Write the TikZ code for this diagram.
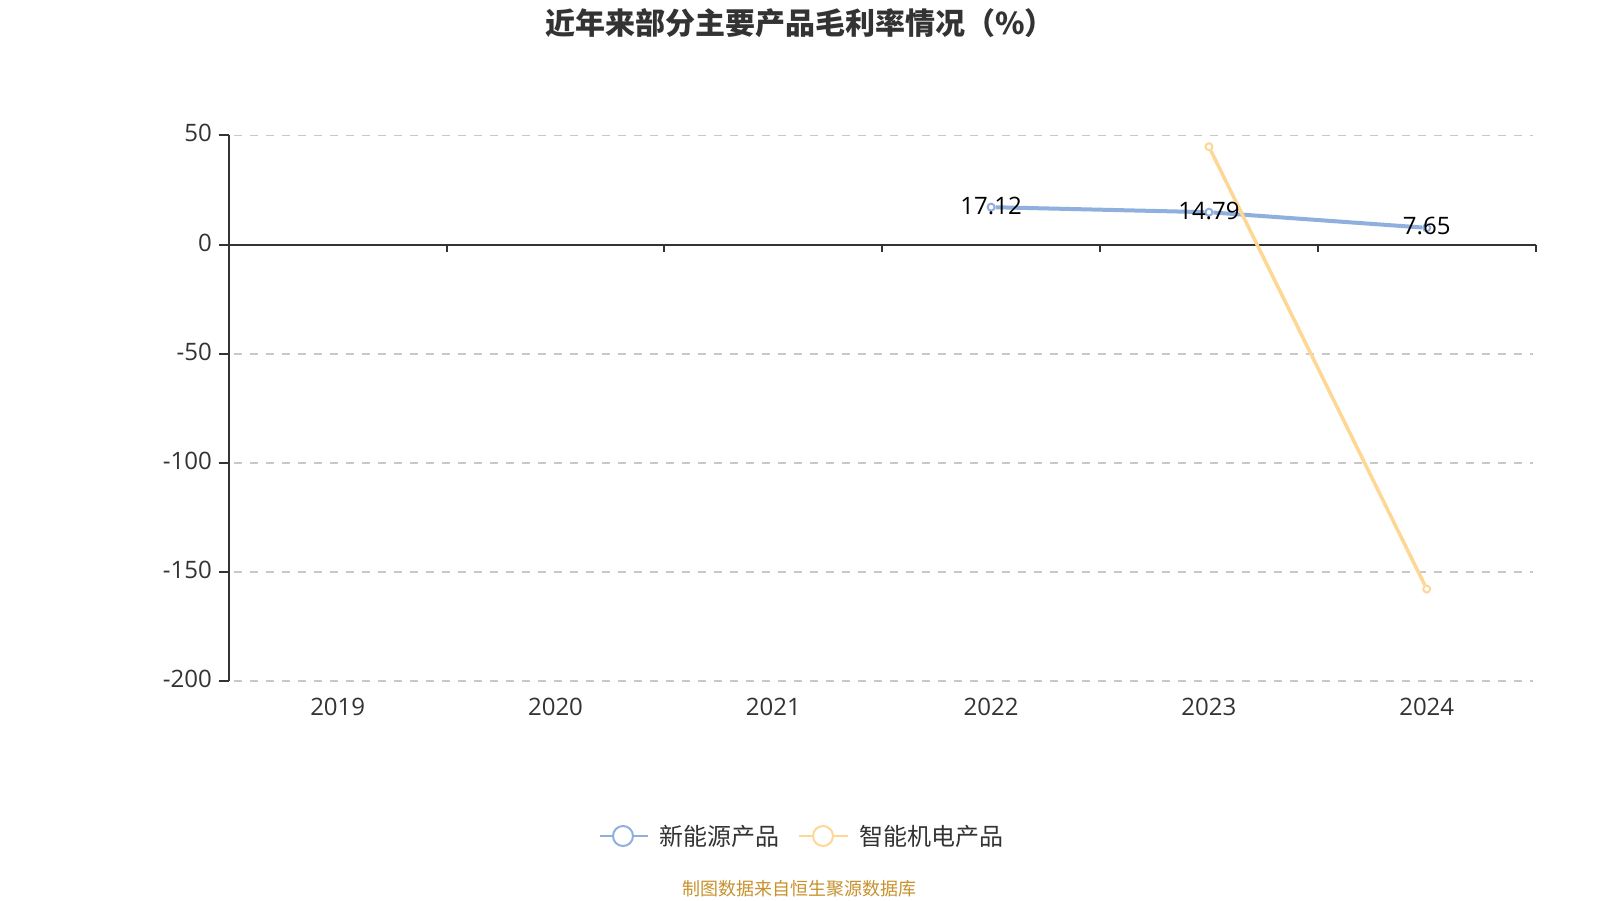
\documentclass[tikz,border=0pt]{standalone}
\usepackage{fontspec}
\setmainfont{Open Sans}
\newfontfamily\cjk{Noto Sans CJK SC}
\usetikzlibrary{positioning}
\definecolor{newblue}{HTML}{8FAFDE}
\definecolor{mechyellow}{HTML}{FFD794}
\definecolor{axisgray}{HTML}{333333}
\definecolor{gridgray}{HTML}{C8C8C8}
\definecolor{srcgold}{HTML}{C8922E}
% pixel position of a value and of a year band
\newcommand{\valy}[1]{244.5-2.182*(#1)}
\newcommand{\bandx}[1]{228.8+217.8*(#1)}

\begin{document}
\begin{tikzpicture}[x=1pt,y=-1pt]
		\tikzset{axisline/.style = {draw=axisgray, line width=2pt},
			gridline/.style = {draw=gridgray, line width=1.8pt, dash pattern=on 8pt off 8pt},
			ylab/.style = {anchor=base east, inner sep=0, text=axisgray, font=\fontsize{24}{28}\selectfont},
			xlab/.style = {anchor=base, inner sep=0, text=axisgray, font=\fontsize{24}{28}\selectfont},
			vlab/.style = {anchor=base, inner sep=0, text=black, font=\fontsize{24}{28}\selectfont},
			ptblue/.style = {shape=circle, draw=newblue, fill=white, line width=2pt, inner sep=0, minimum size=7pt},
			ptyellow/.style = {ptblue, draw=mechyellow},
			legdot/.style = {shape=circle, fill=white, line width=2pt, inner sep=0, minimum size=20pt},
			legtext/.style = {inner sep=0, text=axisgray, font=\cjk\fontsize{24}{28}\selectfont}}
		\useasboundingbox (0,0) rectangle (1600,900);
		\fill[white] (0,0) rectangle (1600,900);
		
		\node[text=axisgray, font=\cjk\bfseries\fontsize{30}{34}\selectfont] (TITLE) at (800,23) {近年来部分主要产品毛利率情况（\%）};
		
		% grid and axes
		\foreach \v in {50,-50,-100,-150,-200}
		\draw[gridline] (234,{\valy{\v}}) -- (1533,{\valy{\v}});
		\coordinate (ORIGIN) at (228.8,{\valy{0}});
		\coordinate (XEND) at ({\bandx{6}},{\valy{0}});
		\coordinate (YTOP) at (228.8,{\valy{50}});
		\coordinate (YBOT) at (228.8,{\valy{-200}});
		\draw[axisline] (YTOP) -- (YBOT);
		\draw[axisline] (ORIGIN) -- (XEND);
		\foreach \v in {50,0,-50,-100,-150,-200} {
			\draw[axisline] (219,{\valy{\v}}) -- (228.8,{\valy{\v}});
			\node[ylab] (Y\v) at (212,{\valy{\v}+6.5}) {\v};
		}
		\foreach \k in {1,...,6}
		\draw[axisline] ({\bandx{\k}},{\valy{0}}) -- ++(0,7);
		\foreach \yr [count=\k from 0] in {2019,...,2024}
		\node[xlab] (X\yr) at ({\bandx{\k+0.5}},715) {\yr};
		
		% series
		\node[ptblue] (NE22) at ({\bandx{3.5}},{\valy{17.12}}) {};
		\node[ptblue] (NE23) at ({\bandx{4.5}},{\valy{14.79}}) {};
		\node[ptblue] (NE24) at ({\bandx{5.5}},{\valy{7.65}}) {};
		\node[ptyellow] (ME23) at ({\bandx{4.5}},{\valy{44.8}}) {};
		\node[ptyellow] (ME24) at ({\bandx{5.5}},{\valy{-157.9}}) {};
		\draw[newblue, line width=4pt] (NE22) -- (NE23) -- (NE24);
		\draw[mechyellow, line width=3.5pt] (ME23) -- (ME24);
		\node[vlab] (NL22) at ([yshift=-7pt]NE22.center) {17.12};
		\node[vlab] (NL23) at ([yshift=-7pt]NE23.center) {14.79};
		\node[vlab] (NL24) at ([yshift=-7pt]NE24.center) {7.65};
		
		% legend
		\node[legdot, draw=newblue] (LB) at (623,836) {};
		\coordinate (LBA) at (600,836);
		\coordinate (LBB) at (648,836);
		\draw[newblue, line width=2pt] (LBA) -- (LB) -- (LBB);
		\node[legtext, right=25pt of LB] (LBT) {新能源产品};
		\node[legdot, draw=mechyellow] (LY) at (823,836) {};
		\coordinate (LYA) at (799,836);
		\coordinate (LYB) at (848,836);
		\draw[mechyellow, line width=2pt] (LYA) -- (LY) -- (LYB);
		\node[legtext, right=25pt of LY] (LYT) {智能机电产品};
		
		\node[text=srcgold, font=\cjk\fontsize{18}{22}\selectfont] (SRC) at (799,889) {制图数据来自恒生聚源数据库};
		
		\end{tikzpicture}
\end{document}
